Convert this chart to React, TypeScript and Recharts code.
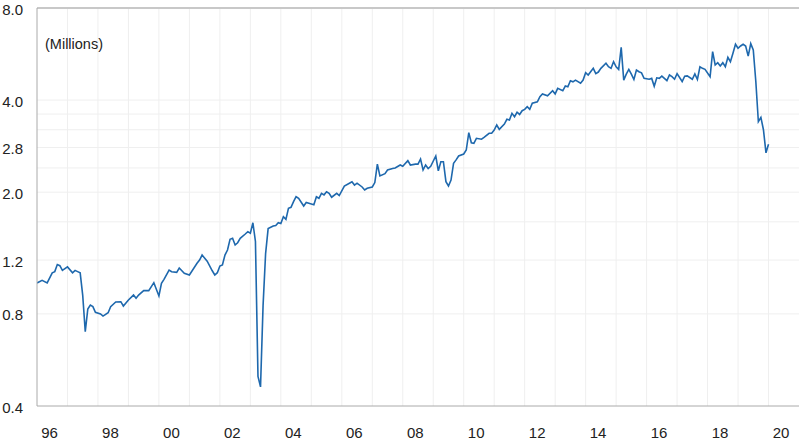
import React from 'react';
import { LineChart, Line, XAxis, YAxis, ReferenceLine } from 'recharts';

const months = [
  '1996-01','1996-03','1996-05','1996-07','1996-08','1996-09','1996-10','1996-11',
  '1997-01','1997-03','1997-04','1997-05','1997-06','1997-07','1997-08','1997-09','1997-10','1997-11','1997-12',
  '1998-02','1998-03','1998-05','1998-06','1998-08','1998-10','1998-11',
  '1999-01','1999-03','1999-04','1999-05','1999-07','1999-09','1999-11',
  '2000-01','2000-02','2000-03','2000-05','2000-06','2000-08','2000-09','2000-11',
  '2001-01','2001-04','2001-05','2001-06','2001-08','2001-10','2001-11','2001-12',
  '2002-01','2002-02','2002-03','2002-04','2002-05','2002-06','2002-07','2002-08','2002-09','2002-11','2002-12',
  '2003-01','2003-02','2003-03','2003-04','2003-05','2003-06','2003-07','2003-08','2003-10','2003-11','2003-12',
  '2004-01','2004-02','2004-03','2004-04','2004-05','2004-06','2004-07','2004-08','2004-10','2004-11',
  '2005-01','2005-02','2005-03','2005-04','2005-05','2005-06','2005-07','2005-08','2005-09','2005-11','2005-12',
  '2006-02','2006-04','2006-05','2006-06','2006-07','2006-09','2006-10','2006-11',
  '2007-01','2007-02','2007-03','2007-04','2007-06','2007-07','2007-09','2007-10','2007-12',
  '2008-01','2008-03','2008-04','2008-06','2008-07','2008-08','2008-09','2008-10','2008-11','2008-12',
  '2009-02','2009-03','2009-04','2009-05','2009-06','2009-07','2009-08','2009-09','2009-10','2009-11',
  '2010-01','2010-02','2010-03','2010-04','2010-05','2010-06','2010-08','2010-09','2010-11','2010-12',
  '2011-01','2011-02','2011-03','2011-05','2011-06','2011-07','2011-08','2011-09','2011-10','2011-11','2011-12',
  '2012-01','2012-02','2012-03','2012-04','2012-06','2012-07','2012-08','2012-10','2012-12',
  '2013-01','2013-02','2013-04','2013-05','2013-06','2013-07','2013-08','2013-09','2013-11','2013-12',
  '2014-01','2014-02','2014-04','2014-05','2014-06','2014-07','2014-09','2014-10','2014-11','2014-12',
  '2015-01','2015-02','2015-03','2015-04','2015-05','2015-06','2015-07','2015-08','2015-09','2015-10','2015-11','2015-12',
  '2016-02','2016-03','2016-04','2016-05','2016-06','2016-07','2016-09','2016-10','2016-11','2016-12',
  '2017-01','2017-03','2017-04','2017-05','2017-07','2017-08','2017-09','2017-10','2017-11','2017-12',
  '2018-02','2018-03','2018-04','2018-05','2018-06','2018-07','2018-08','2018-09','2018-10','2018-11','2018-12',
  '2019-01','2019-02','2019-03','2019-04','2019-05','2019-06','2019-07','2019-08','2019-09','2019-10','2019-11','2019-12',
  '2020-01',
];

const values = [
  1.01,1.03,1.01,1.09,1.10,1.16,1.15,1.11,
  1.14,1.09,1.11,1.10,1.09,0.92,0.70,0.83,0.855,0.845,0.81,
  0.80,0.787,0.807,0.845,0.875,0.877,0.849,
  0.888,0.922,0.90,0.922,0.953,0.953,1.012,
  0.916,1.007,1.038,1.113,1.099,1.094,1.13,1.086,
  1.072,1.171,1.20,1.246,1.19,1.107,1.072,1.091,
  1.147,1.156,1.246,1.294,1.403,1.413,1.344,1.367,1.413,1.46,1.486,
  1.468,1.589,1.38,0.50,0.462,0.85,1.26,1.52,1.55,1.557,1.589,
  1.58,1.662,1.63,1.771,1.785,1.862,1.933,1.91,1.802,1.85,
  1.83,1.82,1.933,1.91,1.983,1.96,2.007,1.983,1.925,1.983,1.95,
  2.095,2.14,2.164,2.11,2.14,2.08,2.033,2.06,
  2.08,2.15,2.47,2.26,2.30,2.363,2.39,2.40,2.454,
  2.43,2.535,2.454,2.47,2.47,2.567,2.363,2.454,2.39,2.43,
  2.626,2.35,2.515,2.515,2.164,2.095,2.19,2.485,2.55,2.626,
  2.666,2.747,3.129,2.902,2.89,3.0,2.98,3.02,3.115,3.115,
  3.193,3.316,3.21,3.34,3.461,3.44,3.621,3.53,3.65,3.59,3.693,
  3.73,3.806,3.73,3.905,3.95,4.103,4.19,4.13,4.293,
  4.19,4.371,4.29,4.447,4.42,4.628,4.59,4.65,4.54,4.65,
  4.916,4.83,5.08,4.88,4.94,5.08,5.276,5.14,5.08,5.34,
  5.14,5.04,5.95,4.65,4.86,5.04,4.86,4.67,5.016,4.95,4.91,4.71,
  4.68,4.71,4.44,4.73,4.71,4.79,4.63,4.83,4.77,4.68,
  4.88,4.60,4.79,4.80,4.68,4.87,4.67,5.14,5.08,5.04,
  4.77,5.758,5.21,5.30,5.17,5.30,5.14,5.52,5.34,5.69,6.088,
  5.91,6.01,6.09,6.01,5.57,6.12,5.83,4.6,3.40,3.51,3.20,2.69,
  2.87,
];

const yTicks = [0.4, 0.8, 1.2, 2.0, 2.8, 4.0, 8.0];
const yGridValues = [0.8, 1.2, 1.6, 2.0, 2.4, 2.8, 3.2, 3.6, 4.0];
const labelYears = [1996, 1998, 2000, 2002, 2004, 2006, 2008, 2010, 2012, 2014, 2016, 2018, 2020];
const gridYears = [1997, 1998, 1999, 2000, 2001, 2002, 2003, 2004, 2005, 2006, 2007, 2008, 2009, 2010, 2011, 2012, 2013, 2014, 2015, 2016, 2017, 2018, 2019, 2020];
const unitLabel = '(Millions)';

const data = months.map((m, i) => {
  const [yr, mo] = m.split('-').map(Number);
  return { t: yr + (mo - 1) / 12, v: values[i] };
});

const FONT = '"Liberation Sans", Arial, Helvetica, sans-serif';

const YTick = (props: any) => {
  const { x, y, payload } = props;
  return (
    <text x={x} y={y + 6.5} textAnchor="end" fontSize={15} fill="#222" fontFamily={FONT}>
      {Number(payload.value).toFixed(1)}
    </text>
  );
};

const XTick = (props: any) => {
  const { x, y, payload } = props;
  const yr = Math.floor(payload.value) % 100;
  return (
    <text x={x} y={y + 32} textAnchor="middle" fontSize={15} fill="#222" fontFamily={FONT}>
      {String(yr).padStart(2, '0')}
    </text>
  );
};

export default function App() {
  return (
    <div style={{ position: 'relative', width: 800, height: 444 }}>
      <style>{`body{margin:0;background:#fff}`}</style>
      <LineChart width={800} height={444} data={data} margin={{ top: 8, right: 1, bottom: 0, left: 0 }}>
        {gridYears.map((yr) => (
          <ReferenceLine key={'gx' + yr} x={yr} stroke="#efefef" strokeWidth={1} />
        ))}
        {yGridValues.map((v) => (
          <ReferenceLine key={'gy' + v} y={v} stroke="#efefef" strokeWidth={1} />
        ))}
        <ReferenceLine y={8} stroke="#c8c8c8" strokeWidth={2} />
        <XAxis
          type="number"
          dataKey="t"
          domain={[1996, 2021]}
          ticks={labelYears.map((y) => y + 0.41)}
          tick={<XTick />}
          tickLine={false}
          tickSize={0}
          tickMargin={0}
          axisLine={{ stroke: '#aaa', strokeWidth: 1 }}
          height={38}
          allowDataOverflow
          interval={0}
        />
        <YAxis
          type="number"
          scale="log"
          domain={[0.4, 8]}
          ticks={yTicks}
          tick={<YTick />}
          tickLine={false}
          tickSize={0}
          tickMargin={14}
          axisLine={{ stroke: '#aaa', strokeWidth: 1 }}
          width={37}
          allowDataOverflow
          interval={0}
        />
        <Line
          type="linear"
          dataKey="v"
          stroke="#1e68ad"
          strokeWidth={1.6}
          dot={false}
          isAnimationActive={false}
        />
      </LineChart>
      <svg width={200} height={60} style={{ position: 'absolute', left: 0, top: 0, pointerEvents: 'none' }}>
        <text x={45} y={49} fontSize={14.5} fill="#222" fontFamily={FONT}>{unitLabel}</text>
      </svg>
    </div>
  );
}
